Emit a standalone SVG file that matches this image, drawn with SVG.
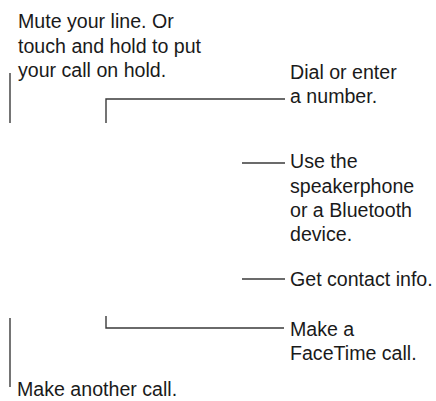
<svg xmlns="http://www.w3.org/2000/svg" width="436" height="401" viewBox="0 0 436 401">
<style>
text{font-family:"Liberation Sans",Arial,sans-serif;font-size:19.6px;fill:#1a1a1a}
.c{fill:none;stroke:#3a3a3a;stroke-width:1.4}
</style>
<rect width="436" height="401" fill="#fff"/>
<g id="connectors">
<path class="c" d="M10 73V123"/>
<path class="c" d="M106 123V99H285"/>
<path class="c" d="M242 163H285"/>
<path class="c" d="M242 279H285"/>
<path class="c" d="M106 316V328H284"/>
<path class="c" d="M10 318V387"/>
</g>
<g id="mute"><text x="18" y="28">Mute your line. Or</text><text x="18" y="52.5">touch and hold to put</text><text x="18" y="77">your call on hold.</text></g>
<g id="dial"><text x="290" y="79">Dial or enter</text><text x="290" y="103">a number.</text></g>
<g id="speaker"><text x="290" y="168">Use the</text><text x="290" y="192.5">speakerphone</text><text x="290" y="217">or a Bluetooth</text><text x="290" y="241">device.</text></g>
<g id="contact"><text x="290" y="286">Get contact info.</text></g>
<g id="facetime"><text x="290" y="336">Make a</text><text x="290" y="360">FaceTime call.</text></g>
<g id="another"><text x="17" y="396">Make another call.</text></g>
</svg>
